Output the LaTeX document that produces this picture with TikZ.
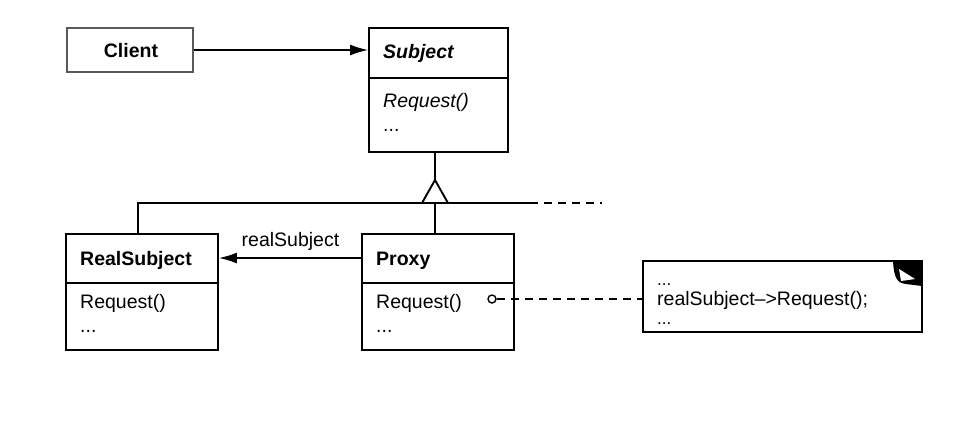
\documentclass[tikz,border=0pt]{standalone}
\usepackage{fontspec}
\setmainfont{Liberation Sans}
\usetikzlibrary{arrows.meta}
\begin{document}
\begin{tikzpicture}[x=1pt,y=-1pt,
  box/.style={draw,line width=1.9pt,rectangle,inner sep=0pt},
  lightbox/.style={draw=black!65,line width=1.2pt,rectangle,inner sep=0pt},
  txt/.style={anchor=base west,inner sep=0pt,font=\fontsize{19.5}{23}\selectfont},
  conn/.style={line width=1.5pt},
  arr/.style={conn,-{Latex[length=18pt,width=11pt]}},
  dashline/.style={conn,dash pattern=on 8pt off 6pt}
]
\useasboundingbox (0,0) rectangle (968,424);

% Client
\node[lightbox,minimum width=126pt,minimum height=44pt] (client) at (130,50) {};
\node[txt,anchor=base] (clientT) at (131,57) {\bfseries Client};

% Subject
\node[box,minimum width=139pt,minimum height=124pt] (subject) at (438.5,90) {};
\coordinate (sdivL) at (369,78); \coordinate (sdivR) at (508,78);
\draw[line width=1.9pt] (sdivL) -- (sdivR);
\node[txt] (subjT) at (383,58) {\bfseries\itshape Subject};
\node[txt] (subjR) at (383,107) {\itshape Request()};
\node[txt] (subjD) at (383,131) {...};

% RealSubject
\node[box,minimum width=152pt,minimum height=116pt] (real) at (142,292) {};
\draw[line width=1.9pt] (66,283) -- (218,283);
\node[txt] (realT) at (80,265) {\bfseries RealSubject};
\node[txt] (realR) at (80,308) {Request()};
\node[txt] (realD) at (80,332) {...};

% Proxy
\node[box,minimum width=152pt,minimum height=116pt] (proxy) at (438,292) {};
\draw[line width=1.9pt] (362,283) -- (514,283);
\node[txt] (proxT) at (376,265) {\bfseries Proxy};
\node[txt] (proxR) at (376,308) {Request()};
\node[txt] (proxD) at (376,332) {...};

% Note
\node[box,minimum width=279pt,minimum height=71pt] (note) at (782.5,296.5) {};
\fill (893,261) -- (922,261) -- (922,286) -- (906,284) .. controls (897,283) and (894,278) .. (893,261) -- cycle;
\fill[white] (899,269) -- (915,279) -- (901,281) -- cycle;
\node[txt,font=\fontsize{17}{20}\selectfont] (noteA) at (657,285) {...};
\node[txt] (noteB) at (657,305) {realSubject–>Request();};
\node[txt,font=\fontsize{17}{20}\selectfont] (noteC) at (657,324) {...};

% Client -> Subject
\draw[arr] (client.east) -- (client.east -| subject.west);

% Inheritance
\coordinate (apex) at (435,180);
\coordinate (tl) at (422,203);
\coordinate (tr) at (448,203);
\draw[conn] (subject.south -| apex) -- (apex);
\coordinate (hL) at (138,203);
\coordinate (hR) at (530,203);
\coordinate (hE) at (602,203);
\draw[conn] (real.north -| hL) -- (hL) -- (hR);
\draw[dashline] (hR) -- (hE);
\draw[conn] (proxy.north -| apex) -- (apex |- hL);
\filldraw[fill=white,line width=1.9pt,line join=miter] (apex) -- (tl) -- (tr) -- cycle;

% Proxy -> RealSubject
\coordinate (pl) at (362,258);
\draw[arr] (pl) -- (pl -| real.east) node[midway,above=3pt,font=\fontsize{19.5}{23}\selectfont] (lbl) {realSubject};

% Proxy Request -> note
\node[draw,circle,line width=1.4pt,minimum size=8pt,inner sep=0pt] (circ) at (492,299) {};
\draw[dashline] (circ.east) -- (circ.east -| note.west);
\end{tikzpicture}
\end{document}
